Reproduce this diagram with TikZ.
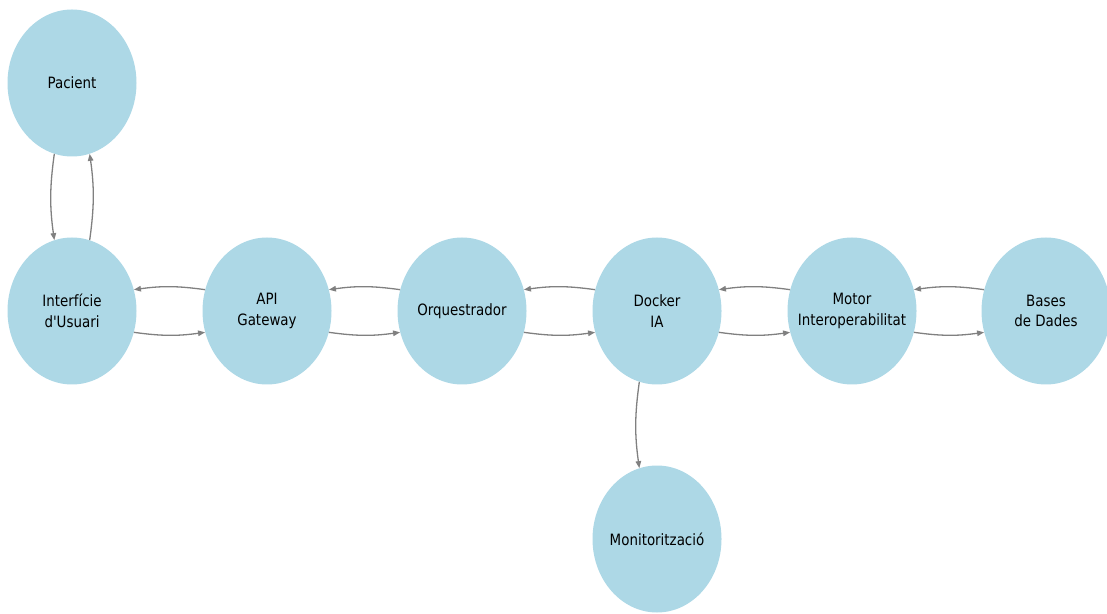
\documentclass[tikz,border=0pt]{standalone}
\usepackage{fontspec}
\usetikzlibrary{shapes.geometric,arrows.meta}
\newfontfamily\lblfont[FakeStretch=0.86]{DejaVu Sans}
\definecolor{nodeblue}{HTML}{ADD8E6}
\definecolor{edgegray}{HTML}{808080}
\begin{document}
\begin{tikzpicture}[x=1pt,y=1pt,
  comp/.style={ellipse, fill=nodeblue, minimum width=129pt, minimum height=147pt, inner sep=0pt},
  txt/.style={font=\lblfont\fontsize{15.6}{20.5}\selectfont, align=center, text=black},
  flow/.style={draw=edgegray, line width=1.3pt, -{Triangle[length=7pt,width=5.5pt]}, bend right=8}]
\useasboundingbox (0,0) rectangle (1107,613);

% components
\node[comp, label={[txt]center:Pacient}] (pac) at (72,530) {};
\node[comp, label={[txt]center:Interfície\\d'Usuari}] (ui) at (72,302) {};
\node[comp, label={[txt]center:API\\Gateway}] (api) at (267,302) {};
\node[comp, label={[txt]center:Orquestrador}] (orq) at (462,302) {};
\node[comp, label={[txt]center:Docker\\IA}] (dock) at (657,302) {};
\node[comp, label={[txt]center:Motor\\Interoperabilitat}] (motor) at (852,302) {};
\node[comp, label={[txt]center:Bases\\de Dades}] (db) at (1046,302) {};
\node[comp, label={[txt]center:Monitorització}] (mon) at (657,74) {};

% connections
\draw[flow] (pac.256) to (ui.104);
\draw[flow] (ui.76) to (pac.284);
\draw[flow] (ui.341) to (api.199);
\draw[flow] (api.161) to (ui.19);
\draw[flow] (api.341) to (orq.199);
\draw[flow] (orq.161) to (api.19);
\draw[flow] (orq.341) to (dock.199);
\draw[flow] (dock.161) to (orq.19);
\draw[flow] (dock.341) to (motor.199);
\draw[flow] (motor.161) to (dock.19);
\draw[flow] (motor.341) to (db.199);
\draw[flow] (db.161) to (motor.19);
\draw[flow] (dock.256) to (mon.104);
\end{tikzpicture}
\end{document}
